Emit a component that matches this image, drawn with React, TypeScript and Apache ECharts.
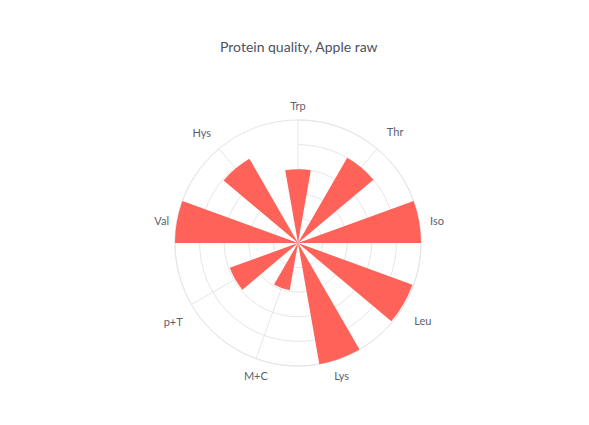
import { useEffect, useRef } from 'react'
import * as echarts from 'echarts'

const title = 'Protein quality, Apple raw'
const categories = ['Trp', 'Thr', 'Iso', 'Leu', 'Lys', 'M+C', 'p+T', 'Val', 'Hys']
const scores = [60, 80, 100, 99, 100, 39, 59, 100, 79]
const radiusTicks = { min: 0, max: 100, interval: 20 }

// nudges so the angle labels sit where the reference puts them [top, right, bottom, left]
const labelPadding: Record<string, number[]> = {
  Trp: [0, 0, 0, 0],
  Thr: [0, 0, 5, 4],
  Iso: [2, 0, 0, 2],
  Leu: [6, 0, 0, 2],
  Lys: [3, 0, 0, -9],
  'M+C': [3, -15, 0, 0],
  'p+T': [7, 1, 0, 0],
  Val: [2, -1, 0, 0],
  Hys: [0, 2, 4, 0],
}

const gridColor = '#e6e6e6'
const barColor = '#ff6259'
const center = [298, 243]
const radius = 123

export default function App() {
  const elRef = useRef<HTMLDivElement | null>(null)

  useEffect(() => {
    if (!elRef.current) return
    const chart = echarts.init(elRef.current, null, { renderer: 'svg' })
    chart.setOption({
      animation: false,
      title: {
        text: title,
        left: 215,
        top: 34,
        textStyle: { color: '#4b5262', fontSize: 14, fontWeight: 'normal', fontFamily: 'Lato' },
      },
      polar: [
        { center, radius },
        { center, radius },
      ],
      angleAxis: [
        {
          polarIndex: 0,
          type: 'category',
          data: categories.map((c) => ({ value: c, textStyle: { padding: labelPadding[c] } })),
          startAngle: 90,
          clockwise: true,
          boundaryGap: false,
          axisLine: { show: false },
          axisTick: { show: false },
          axisLabel: { color: '#5a6170', fontSize: 11, fontFamily: 'Lato', margin: 9 },
          splitLine: { show: true, lineStyle: { color: gridColor, width: 1 } },
        },
        {
          // full outer ring
          polarIndex: 1,
          type: 'value',
          min: 0,
          max: 360,
          axisLine: { show: true, lineStyle: { color: gridColor, width: 1 } },
          axisTick: { show: false },
          axisLabel: { show: false },
          splitLine: { show: false },
        },
      ],
      radiusAxis: [
        {
          polarIndex: 0,
          type: 'value',
          ...radiusTicks,
          axisLine: { show: false },
          axisTick: { show: false },
          axisLabel: { show: false },
          splitLine: { show: true, lineStyle: { color: gridColor, width: 1 } },
        },
        {
          polarIndex: 1,
          type: 'value',
          ...radiusTicks,
          axisLine: { show: false },
          axisTick: { show: false },
          axisLabel: { show: false },
          splitLine: { show: false },
        },
      ],
      series: [
        {
          type: 'bar',
          coordinateSystem: 'polar',
          polarIndex: 0,
          data: scores,
          barWidth: '50%',
          itemStyle: { color: barColor },
        },
      ],
    })
    return () => {
      chart.dispose()
    }
  }, [])

  return (
    <div
      ref={elRef}
      style={{ position: 'absolute', left: 0, top: 0, width: 589, height: 425, background: '#fff' }}
    />
  )
}
